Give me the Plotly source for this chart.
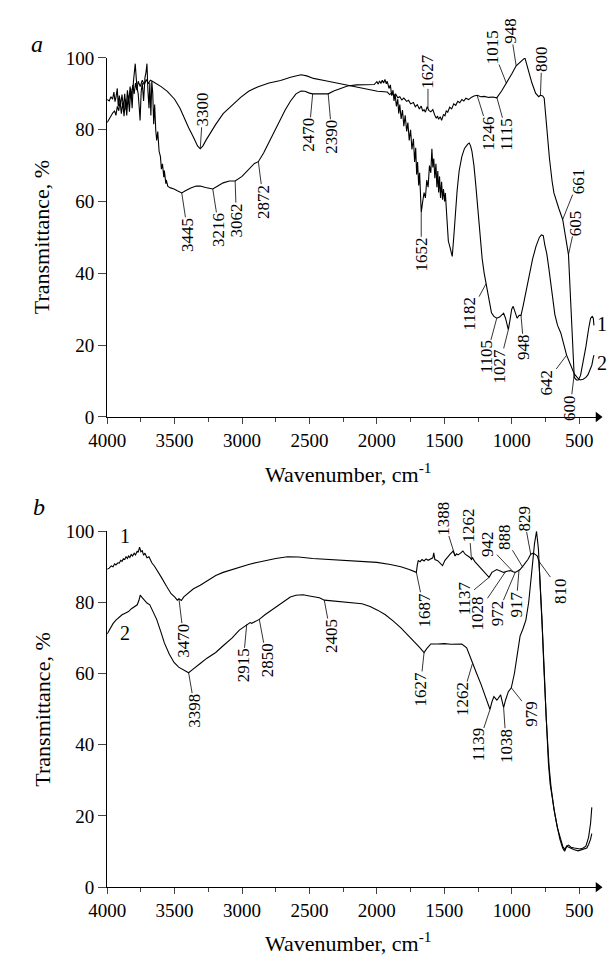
import math
import plotly.graph_objects as go

# ---------------- Panel a : spectrum 1 ----------------
a1_wn = [4000, 3985, 3972, 3960, 3950, 3942, 3935, 3925, 3918, 3910, 3900, 3890, 3880, 3870, 3860, 3850,
         3840, 3830, 3820, 3810, 3800, 3790, 3780, 3770, 3755, 3740, 3725, 3710, 3695, 3680, 3665,
         3640, 3600, 3554, 3500, 3460, 3432, 3395, 3360, 3330, 3310, 3290, 3267, 3230, 3195, 3140,
         3073, 3010, 2951, 2880, 2800, 2714, 2640, 2563, 2520, 2470, 2390, 2300, 2218, 2110, 1995,
         1923, 1905, 1890, 1873, 1860, 1845, 1830, 1815, 1800, 1779, 1765, 1750, 1729, 1715, 1700,
         1685, 1671, 1660, 1650, 1640, 1627, 1615, 1600, 1585, 1570, 1560, 1550, 1542, 1530, 1520,
         1506, 1495, 1485, 1475, 1460, 1445, 1430, 1415, 1400, 1385, 1370, 1355, 1340, 1320, 1300,
         1280, 1255, 1230, 1204, 1170, 1140, 1111, 1075, 1039, 1000, 967, 930, 902, 880, 850, 823,
         800, 787, 770, 759, 740, 720, 700, 687, 650, 622, 600, 579, 560, 545, 536, 520, 507, 490,
         470, 450, 430, 415, 403, 395, 390]
a1_t = [88.4, 88.0, 89.2, 88.5, 90.5, 87.8, 89.0, 91.5, 86.5, 89.5, 87.0, 89.8, 86.0, 90.0, 85.5, 91.0,
        87.5, 92.0, 89.0, 92.5, 90.0, 93.0, 91.0, 93.5, 92.0, 93.8, 92.5, 94.0, 92.8, 93.8, 93.5,
        93.0, 92.0, 90.7, 88.5, 86.0, 83.4, 80.5, 77.9, 75.5, 74.7, 75.5, 77.1, 79.5, 81.5, 84.5,
        86.9, 89.0, 90.7, 92.0, 93.0, 93.7, 94.6, 95.3, 95.0, 94.3, 93.7, 93.0, 92.4, 91.6, 90.7,
        90.5, 89.8, 90.3, 89.4, 89.9, 88.9, 89.2, 88.3, 88.8, 87.9, 88.2, 87.2, 87.6, 86.4, 87.0,
        85.8, 86.6, 85.2, 85.6, 84.9, 86.4, 85.4, 85.0, 85.6, 84.0, 83.2, 83.8, 82.9, 83.6, 82.6,
        84.2, 83.9, 85.3, 84.8, 86.3, 85.8, 87.2, 86.8, 87.9, 87.5, 88.4, 88.0, 88.8, 88.4, 89.0,
        89.4, 89.6, 89.2, 89.3, 89.0, 89.1, 88.9, 90.8, 92.9, 95.5, 97.8, 99.0, 100.0, 97.0, 93.0, 90.2,
        89.2, 89.6, 89.4, 88.8, 80.0, 72.0, 65.5, 62.4, 58.0, 55.0, 50.0, 45.2, 30.0, 15.0, 11.0, 10.3, 10.3, 11.5,
        15.0, 19.5, 24.5, 27.5, 28.0, 27.5, 25.5]

# ---------------- Panel a : spectrum 2 ----------------
a2_wn = [4000, 3985, 3970, 3957, 3945, 3935, 3925, 3914, 3905, 3895, 3885, 3875, 3865, 3855, 3845, 3835,
         3825, 3815, 3805, 3792, 3780, 3770, 3762, 3756, 3748, 3740, 3730, 3720, 3712, 3705, 3698,
         3690, 3684, 3676, 3669, 3662, 3655, 3648, 3640, 3633, 3625, 3615, 3605, 3598, 3590, 3580,
         3576, 3565, 3562, 3550, 3530, 3504, 3480, 3447, 3420, 3380, 3340, 3310, 3270, 3217, 3180,
         3140, 3094, 3051, 3000, 2950, 2908, 2879, 2840, 2800, 2760, 2714, 2680, 2640, 2600, 2563,
         2534, 2500, 2476, 2420, 2361, 2320, 2270, 2218, 2150, 2100, 2050, 2020, 2000, 1990, 1980,
         1970, 1960, 1950, 1940, 1930, 1923, 1910, 1900, 1890, 1880, 1873, 1865, 1855, 1845, 1838,
         1830, 1820, 1810, 1800, 1790, 1779, 1770, 1760, 1750, 1740, 1729, 1720, 1712, 1705, 1698,
         1690, 1683, 1675, 1671, 1660, 1650, 1640, 1630, 1620, 1610, 1600, 1592, 1585, 1578, 1570,
         1562, 1555, 1548, 1542, 1535, 1528, 1520, 1513, 1506, 1498, 1492, 1480, 1470, 1456, 1448,
         1441, 1430, 1420, 1405, 1390, 1370, 1350, 1335, 1326, 1315, 1305, 1295, 1280, 1265, 1250,
         1235, 1219, 1204, 1190, 1170, 1150, 1132, 1111, 1090, 1075, 1060, 1046, 1035, 1025, 1015,
         1000, 989, 976, 960, 945, 931, 915, 895, 870, 845, 820, 795, 780, 766, 755, 740, 725, 708,
         680, 660, 636, 593, 560, 536, 510, 493, 470, 450, 435, 420, 406, 395, 390]
a2_t = [82.0, 83.0, 84.0, 84.8, 85.2, 84.0, 86.5, 85.3, 88.0, 84.5, 87.5, 83.8, 88.5, 84.0, 89.5, 85.0,
        91.5, 86.0, 93.5, 98.4, 92.0, 90.0, 86.0, 82.6, 90.5, 93.0, 88.0, 94.5, 96.0, 98.4, 91.0,
        86.0, 93.0, 84.0, 93.5, 90.0, 81.5, 87.0, 80.0, 77.0, 79.5, 74.0, 72.5, 69.0, 70.5, 66.8,
        68.6, 65.0, 66.0, 64.2, 63.8, 63.5, 63.0, 62.4, 63.0, 63.8, 64.3, 64.3, 63.9, 63.5, 64.3,
        65.2, 65.7, 65.7, 67.0, 68.8, 70.6, 71.1, 73.5, 76.5, 79.5, 82.5, 85.5, 88.0, 90.0, 90.8,
        90.7, 90.2, 90.0, 90.0, 90.0, 90.8, 91.5, 92.2, 92.5, 92.6, 92.7, 92.6, 93.4, 92.7, 93.6,
        92.9, 93.8, 93.0, 94.0, 92.8, 93.5, 91.5, 92.5, 89.5, 91.0, 88.0, 90.0, 86.5, 88.5, 84.5,
        87.0, 83.0, 85.5, 81.0, 84.0, 79.5, 82.0, 77.0, 80.0, 74.5, 77.5, 71.0, 75.0, 67.5, 71.0,
        64.5, 68.0, 62.0, 57.0, 60.0, 62.5, 61.0, 66.0, 64.0, 70.0, 68.0, 74.7, 69.5, 72.0, 66.5,
        70.5, 64.0, 68.5, 62.5, 67.0, 61.0, 65.5, 60.5, 63.5, 60.0, 62.4, 55.0, 49.0, 47.0, 45.5,
        44.7, 50.0, 56.0, 63.0, 68.5, 72.5, 74.8, 75.8, 76.0, 76.3, 75.5, 74.0, 70.0, 64.0, 57.0,
        50.0, 44.0, 40.0, 37.1, 32.0, 29.0, 28.0, 27.5, 27.8, 28.5, 28.9, 27.5, 25.5, 24.3, 26.5,
        30.0, 30.8, 29.0, 27.5, 28.3, 28.3, 31.0, 35.0, 39.5, 44.0, 47.5, 50.0, 50.7, 50.5, 48.0, 45.5, 41.5, 37.0,
        28.5, 25.5, 23.4, 17.2, 14.0, 12.0, 10.8, 10.3, 10.5, 11.0, 11.7, 13.0, 14.4, 16.5, 17.2]

# ---------------- Panel b : spectrum 1 ----------------
b1_wn = [4000, 3985, 3970, 3957, 3945, 3935, 3921, 3910, 3900, 3890, 3880, 3870, 3860, 3850, 3842, 3832,
         3822, 3812, 3800, 3790, 3777, 3770, 3760, 3750, 3740, 3730, 3720, 3705, 3690, 3669, 3650,
         3630, 3598, 3560, 3526, 3500, 3480, 3468, 3450, 3432, 3400, 3360, 3310, 3260, 3195, 3140,
         3073, 3010, 2951, 2890, 2836, 2750, 2663, 2580, 2476, 2400, 2300, 2200, 2110, 2000, 1900,
         1822, 1760, 1707, 1700, 1693, 1680, 1665, 1650, 1635, 1620, 1600, 1585, 1578, 1570, 1549,
         1530, 1513, 1495, 1480, 1470, 1455, 1434, 1420, 1410, 1398, 1380, 1362, 1345, 1326, 1310,
         1298, 1290, 1275, 1255, 1230, 1204, 1185, 1168, 1147, 1130, 1111, 1085, 1060, 1035, 1010,
         990, 974, 955, 938, 910, 880, 859, 840, 823, 810, 798, 787, 775, 762, 750, 740, 728, 715,
         700, 680, 660, 640, 620, 605, 593, 579, 560, 536, 510, 493, 470, 450, 430, 415, 406]
b1_t = [89.3, 89.6, 90.2, 90.0, 90.8, 90.5, 91.1, 91.0, 91.8, 91.5, 92.2, 92.0, 92.8, 92.3, 93.0, 92.6,
        93.4, 93.0, 93.8, 93.3, 94.4, 94.0, 95.5, 94.2, 94.5, 93.2, 93.8, 92.5, 92.8, 91.1, 90.2,
        88.8, 87.0, 84.5, 82.4, 81.5, 80.6, 81.0, 80.5, 81.5, 82.5, 83.8, 84.8, 86.0, 87.5, 88.4,
        89.2, 90.0, 90.6, 91.2, 91.7, 92.3, 92.8, 92.7, 92.3, 92.1, 91.9, 91.7, 91.5, 91.2, 90.6,
        90.0, 89.2, 88.4, 90.5, 91.7, 91.4, 92.0, 91.6, 92.2, 91.8, 92.3, 92.5, 93.9, 92.0, 91.7,
        90.8, 90.3, 91.8, 92.6, 93.0, 93.6, 94.4, 93.0, 93.6, 93.3, 93.8, 94.4, 93.5, 93.0, 92.6,
        92.0, 92.5, 91.5, 90.6, 89.5, 88.4, 87.6, 87.0, 88.4, 88.9, 89.2, 88.8, 88.4, 88.7, 88.9,
        88.6, 88.4, 88.8, 89.2, 90.5, 92.0, 93.5, 93.8, 93.4, 93.0, 91.5, 85.0, 75.0, 62.0, 52.0, 43.0, 35.0, 29.0,
        25.0, 20.5, 16.5, 13.5, 11.3, 10.6, 11.5, 11.8, 11.2, 11.0, 10.8, 10.7, 11.0, 11.5, 14.0, 18.0, 22.4]

# ---------------- Panel b : spectrum 2 ----------------
b2_wn = [4000, 3980, 3957, 3935, 3914, 3890, 3863, 3842, 3820, 3800, 3777, 3765, 3755, 3745, 3734, 3720,
         3705, 3684, 3660, 3633, 3600, 3576, 3540, 3504, 3470, 3432, 3411, 3396, 3370, 3340, 3310,
         3260, 3217, 3195, 3140, 3073, 3020, 2965, 2940, 2929, 2900, 2872, 2830, 2764, 2700, 2642,
         2600, 2548, 2490, 2426, 2390, 2300, 2200, 2110, 2050, 1995, 1937, 1880, 1822, 1760, 1715,
         1680, 1650, 1630, 1600, 1550, 1500, 1450, 1400, 1370, 1334, 1291, 1260, 1226, 1195, 1168,
         1161, 1147, 1132, 1110, 1082, 1070, 1060, 1046, 1025, 1003, 980, 960, 938, 917, 895, 874,
         859, 845, 831, 816, 802, 790, 775, 760, 745, 735, 723, 708, 687, 665, 643, 622, 608, 593,
         579, 560, 536, 507, 486, 464, 443, 430, 415, 406]
b2_t = [71.1, 72.5, 74.0, 75.0, 75.6, 76.5, 77.0, 77.4, 78.2, 78.8, 79.3, 80.5, 82.0, 81.5, 81.0, 80.2,
        79.8, 79.3, 77.5, 75.2, 71.5, 68.6, 65.5, 63.1, 61.8, 60.9, 60.4, 60.2, 61.0, 62.0, 62.8,
        64.3, 65.4, 65.9, 67.8, 70.0, 72.2, 73.8, 74.3, 74.1, 74.6, 75.2, 76.5, 78.3, 80.0, 81.5,
        82.0, 82.1, 81.7, 81.3, 80.6, 80.3, 79.8, 79.6, 78.8, 77.8, 76.5, 74.8, 72.8, 70.5, 68.6,
        67.2, 65.9, 67.0, 68.3, 68.3, 68.4, 68.2, 68.3, 68.3, 67.2, 62.8, 60.0, 56.8, 53.5, 50.4,
        49.9, 52.0, 53.5, 52.5, 54.0, 52.0, 50.4, 52.5, 54.9, 56.0, 60.0, 65.0, 70.5, 72.5, 75.0, 80.0,
        85.0, 91.0, 96.5, 99.9, 95.0, 86.0, 75.0, 62.0, 48.0, 40.0, 34.0, 28.0, 22.0, 17.5, 13.5, 11.0, 10.1, 11.5,
        11.2, 10.8, 10.5, 10.2, 10.4, 10.8, 11.0, 12.0, 13.5, 15.0]

# ---------------- peak labels ----------------
a_lab_text = ["3300", "3445", "3216", "3062", "2872", "2470", "2390", "1627", "1246", "1115", "1015",
              "948", "800", "661", "605", "1652", "1182", "1105", "1027", "948", "642", "600"]
a_lab_wn = [3310, 3447, 3217, 3051, 2879, 2476, 2361, 1621, 1255, 1111, 1039,
            967, 787, 622, 579, 1671, 1190, 1111, 1025, 931, 593, 536]
a_lab_t = [74.7, 62.4, 63.5, 65.7, 71.1, 90.0, 90.0, 86.1, 89.4, 89.1, 92.9,
           97.8, 89.6, 55.0, 45.2, 57.0, 37.1, 27.5, 24.3, 28.3, 17.2, 12.0]

b_lab_text = ["3470", "3398", "2915", "2850", "2405", "1687", "1388", "1262", "1137", "1028", "942",
              "972", "888", "917", "829", "810", "1627", "1262", "1139", "1038", "979"]
b_lab_wn = [3468, 3396, 2965, 2872, 2390, 1707, 1420, 1298, 1168, 1046, 990,
            974, 917, 946, 859, 798, 1650, 1291, 1161, 1060, 1003]
b_lab_t = [81.0, 60.2, 73.8, 75.2, 80.6, 88.4, 93.0, 92.0, 87.0, 88.6, 88.6,
           88.4, 89.8, 89.0, 93.5, 91.5, 65.9, 62.8, 49.9, 50.4, 56.0]

x_ticks = [4000, 3500, 3000, 2500, 2000, 1500, 1000, 500]
y_ticks = [0, 20, 40, 60, 80, 100]

# ---------------- styling / placement (pixel offsets of label centres) ----------------
a_lab_off = [(2, -30), (5, 33), (5, 32), (1, 30), (4, 31), (-3, 32), (3, 34), (0, -28), (9, 29), (8, 29),
             (-11, -28), (-4, -26), (1, -27), (12, -30), (5, -23), (0, 33), (-12, 22), (-8, 30), (-7, 28),
             (2, 23), (-15, 20), (-3, 25)]
b_lab_off = [(4, 33), (5, 29), (-3, 32), (6, 32), (5, 27), (6, 29), (-9, -29), (-2, -25), (-18, 15),
             (-23, 34), (-20, -21), (-14, 33), (-14, -23), (-2, 25), (-5, -27), (16, 22), (-3, 28),
             (-8, 27), (-9, 27), (2, 29), (15, 19)]
PULL = 9  # plotly draws rotated labels slightly nearer to the anchor; compensate

FONT = "Liberation Serif"
W, H = 614, 963
X_END = 360
line = dict(color="black", width=1.1)

fig = go.Figure()
for xs, ys, xa, ya in [(a1_wn, a1_t, "x", "y"), (a2_wn, a2_t, "x", "y"),
                       (b1_wn, b1_t, "x2", "y2"), (b2_wn, b2_t, "x2", "y2")]:
    fig.add_trace(go.Scatter(x=xs, y=ys, mode="lines", line=line, xaxis=xa, yaxis=ya,
                             cliponaxis=False, showlegend=False, hoverinfo="skip"))
# arrow heads at the end of the x axes
for xa, ya in [("x", "y"), ("x2", "y2")]:
    fig.add_trace(go.Scatter(x=[X_END], y=[0], mode="markers", xaxis=xa, yaxis=ya,
                             marker=dict(symbol="triangle-right", size=9, color="black"),
                             cliponaxis=False, showlegend=False, hoverinfo="skip"))

xdom = [91 / W, 597.5 / W]
common_x = dict(range=[4000, X_END], tickvals=x_ticks, ticks="outside", ticklen=6, tickwidth=1.2,
                minor=dict(dtick=250, tick0=0, ticks="outside", ticklen=4, tickwidth=1),
                showline=True, linecolor="black", linewidth=1.3, showgrid=False, zeroline=False,
                tickfont=dict(family=FONT, size=19, color="black"), domain=xdom)
common_y = dict(range=[0, 100], tickvals=y_ticks, ticks="outside", ticklen=8, tickwidth=1.2,
                showline=True, linecolor="black", linewidth=1.3, showgrid=False, zeroline=False,
                tickfont=dict(family=FONT, size=19, color="black"))

fig.update_layout(
    width=W, height=H, margin=dict(l=0, r=0, t=0, b=0),
    paper_bgcolor="white", plot_bgcolor="white", showlegend=False,
    xaxis=dict(common_x, anchor="y"),
    yaxis=dict(common_y, anchor="x", domain=[(H - 416) / H, (H - 49) / H]),
    xaxis2=dict(common_x, anchor="y2"),
    yaxis2=dict(common_y, anchor="x2", domain=[(H - 896.7) / H, (H - 532.7) / H]),
)

ann = []
def add_labels(texts, xs, ys, offs, xr, yr):
    for t, x, y, (ox, oy) in zip(texts, xs, ys, offs):
        d = math.hypot(ox, oy)
        k = (d + PULL) / d
        ann.append(dict(x=x, y=y, xref=xr, yref=yr, text=t, textangle=-90, showarrow=True,
                        ax=ox * k, ay=oy * k, arrowhead=0, arrowwidth=0.8, arrowcolor="black",
                        standoff=0, borderpad=0,
                        font=dict(family=FONT, size=17, color="black")))

add_labels(a_lab_text, a_lab_wn, a_lab_t, a_lab_off, "x", "y")
add_labels(b_lab_text, b_lab_wn, b_lab_t, b_lab_off, "x2", "y2")

# curve numbers
cfont = dict(family=FONT, size=20, color="black")
ann += [
    dict(x=400, y=25.9, xref="x", yref="y", text="1", showarrow=False, xshift=9, font=cfont),
    dict(x=400, y=15.0, xref="x", yref="y", text="2", showarrow=False, xshift=9, font=cfont),
    dict(x=3871, y=98.5, xref="x2", yref="y2", text="1", showarrow=False, font=cfont),
    dict(x=3871, y=71.3, xref="x2", yref="y2", text="2", showarrow=False, font=cfont),
]

# axis titles and panel letters
tfont = dict(family=FONT, size=22, color="black")
def pann(x, y, text, font, angle=0):
    return dict(x=x / W, y=(H - y) / H, xref="paper", yref="paper", text=text, textangle=angle,
                showarrow=False, font=font, xanchor="center", yanchor="middle")

ann += [
    pann(24, 232, "Transmittance, %", tfont, -90),
    pann(24, 715, "Transmittance, %", tfont, -90),
    pann(340, 473, "Wavenumber, cm<sup>-1</sup>", tfont),
    pann(340, 953, "Wavenumber, cm<sup>-1</sup>", tfont),
    pann(19, 35, "<i>a</i>", dict(family=FONT, size=24, color="black")),
    pann(21, 508, "<i>b</i>", dict(family=FONT, size=24, color="black")),
]
fig.update_layout(annotations=ann)

fig.write_html("out.html", config={"displayModeBar": False},
               post_script="document.body.style.margin='0';document.body.style.overflow='hidden';")
